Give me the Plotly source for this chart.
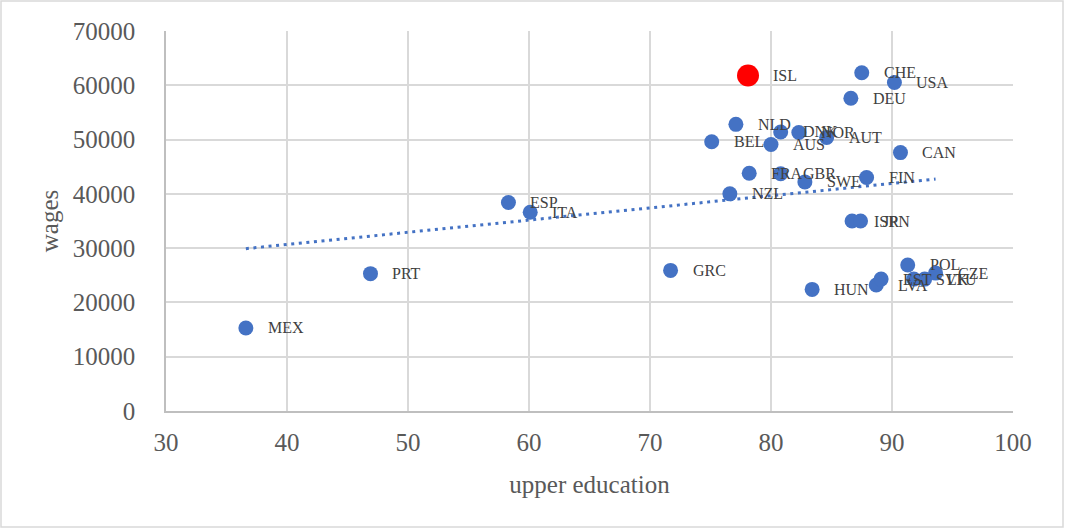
import numpy as np
import plotly.graph_objects as go

# OECD countries: share with upper secondary education (%) vs average wages
countries = ["MEX", "PRT", "ESP", "ITA", "GRC", "HUN", "NZL", "BEL", "NLD", "AUS",
             "DNK", "NOR", "AUT", "FRA", "GBR", "SWE", "FIN", "CAN", "CHE",
             "USA", "DEU", "ISR", "JPN", "LVA", "EST", "POL", "SVK", "LTU", "CZE"]
education = [36.6, 46.9, 58.3, 60.1, 71.7, 83.4, 76.6, 75.1, 77.1, 80.0,
             80.8, 82.3, 84.6, 78.2, 80.8, 82.8, 87.9, 90.7, 87.5,
             90.2, 86.6, 86.7, 87.4, 88.7, 89.1, 91.3, 91.8, 92.7, 93.6]
wages = [15300, 25300, 38400, 36600, 25900, 22400, 40000, 49600, 52800, 49100,
         51400, 51300, 50400, 43800, 43700, 42200, 43000, 47600, 62300,
         60500, 57600, 35000, 35000, 23200, 24300, 26900, 24300, 24300, 25400]

# highlighted country
hl_country = ["ISL"]
hl_education = [78.1]
hl_wages = [61800]

BLUE = "#4472C4"
RED = "#FF0000"
FONT = "Liberation Serif"
LABEL_FONT = dict(family=FONT, size=16, color="#404040")

# linear trend fitted over all countries
all_x = np.array(education + hl_education)
all_y = np.array(wages + hl_wages)
slope, intercept = np.polyfit(all_x, all_y, 1)
trend_x = np.array([all_x.min(), all_x.max()])
trend_y = slope * trend_x + intercept

fig = go.Figure()
fig.add_trace(go.Scatter(
    x=trend_x, y=trend_y, mode="lines",
    line=dict(color=BLUE, width=3, dash="3px,4.6px"),
    hoverinfo="skip", showlegend=False,
))
fig.add_trace(go.Scatter(
    x=education, y=wages, mode="markers", text=countries,
    marker=dict(color=BLUE, size=15, line=dict(width=0)),
    showlegend=False,
))
fig.add_trace(go.Scatter(
    x=hl_education, y=hl_wages, mode="markers", text=hl_country,
    marker=dict(color=RED, size=22, line=dict(width=0)),
    showlegend=False,
))

annotations = []
for name, xv, yv in zip(countries, education, wages):
    annotations.append(dict(x=xv, y=yv, xref="x", yref="y", text=name,
                            showarrow=False, xanchor="left", yanchor="middle",
                            xshift=20, font=LABEL_FONT))
for name, xv, yv in zip(hl_country, hl_education, hl_wages):
    annotations.append(dict(x=xv, y=yv, xref="x", yref="y", text=name,
                            showarrow=False, xanchor="left", yanchor="middle",
                            xshift=23, font=LABEL_FONT))

W, H = 1065, 529
L, R, T, B = 166, 52, 31, 118
pw, ph = W - L - R, H - T - B

fig.update_layout(
    width=W, height=H,
    margin=dict(l=L, r=R, t=T, b=B),
    paper_bgcolor="white", plot_bgcolor="white",
    font=dict(family=FONT, color="#595959"),
    annotations=annotations,
    shapes=[dict(type="rect", xref="paper", yref="paper",
                 x0=(1 - L) / pw, x1=(W - 2 - L) / pw,
                 y0=-(H - 2 - (H - B)) / ph, y1=(H - B - 1) / ph,
                 line=dict(color="#D9D9D9", width=1.5), layer="below")],
)
fig.update_xaxes(
    range=[30, 100], dtick=10, tick0=30,
    showgrid=True, gridcolor="#D9D9D9", gridwidth=1.5,
    showline=True, linecolor="#BFBFBF", linewidth=1.5, mirror=False,
    zeroline=False, ticks="",
    tickfont=dict(family=FONT, size=25, color="#595959"),
    ticklabelstandoff=8,
    title=dict(text="upper education", font=dict(family=FONT, size=25, color="#595959"), standoff=21),
)
fig.update_yaxes(
    range=[0, 70000], dtick=10000, tickformat="d",
    showgrid=True, gridcolor="#D9D9D9", gridwidth=1.5,
    showline=True, linecolor="#BFBFBF", linewidth=1.5, mirror=False,
    zeroline=False, ticks="",
    tickfont=dict(family=FONT, size=25, color="#595959"),
    ticklabelstandoff=24,
    title=dict(text="wages", font=dict(family=FONT, size=25, color="#595959"), standoff=7),
)

fig.write_html("out.html")
